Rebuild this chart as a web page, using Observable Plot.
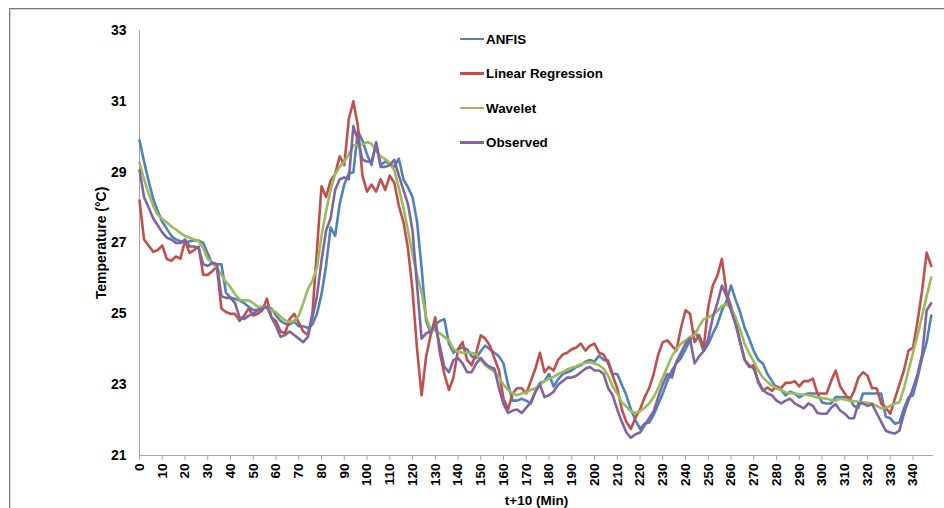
<!DOCTYPE html>
<html>
<head>
<meta charset="utf-8">
<script src="https://cdn.jsdelivr.net/npm/d3@7"></script>
<script src="https://cdn.jsdelivr.net/npm/@observablehq/plot@0.6"></script>
<style>
  html, body { margin: 0; padding: 0; background: #fff; }
  #wrap { position: relative; width: 944px; height: 508px; overflow: hidden; font-family: "Liberation Sans", Arial, sans-serif; }
  #frame { position: absolute; left: 9px; top: 8px; width: 1000px; height: 600px; border-top: 1px solid #7a7a7a; border-left: 1px solid #7a7a7a; box-shadow: inset 1px 1px 0 #d4d4d4; }
  #chart { position: absolute; left: 0; top: 0; }
  #legend { position: absolute; left: 460px; top: 30px; font-weight: bold; font-size: 13.4px; color: #000; }
  .row { display: flex; align-items: center; height: 18px; margin-bottom: 16.5px; }
  .sw { width: 24px; height: 2.6px; margin-right: 2px; }
</style>
</head>
<body>
<div id="wrap">
  <div id="frame"></div>
  <div id="chart"></div>
  <div id="legend"></div>
</div>
<script>
// ---- data (minutes sampled every 2) ----
const minutes = d3.range(0, 350, 2);
const seriesNames = ["ANFIS", "Linear Regression", "Wavelet", "Observed"];
const seriesColors = ["#4F81BD", "#C0504D", "#9BBB59", "#8064A2"];
const yTicks = [21, 23, 25, 27, 29, 31, 33];
const xTicks = d3.range(0, 341, 10);

const anfis = [
  29.9, 29.3, 28.75, 28.25, 27.9, 27.6, 27.4, 27.2, 27.1, 27.05,
  27.0, 27.05, 27.07, 27.07, 27.0, 26.7, 26.4, 26.4, 26.4, 25.6,
  25.46, 25.42, 25.38, 25.3, 25.2, 25.1, 25.12, 25.15, 25.18, 25.15,
  24.95, 24.8, 24.72, 24.7, 24.78, 24.65, 24.65, 24.6, 24.7, 25.0,
  25.55, 26.35, 27.44, 27.2, 28.1, 28.65, 28.96, 29.0, 30.15, 29.9,
  29.5, 29.2, 29.85, 29.2, 29.3, 29.24, 29.15, 29.38, 28.8, 28.57,
  28.3, 27.6, 26.3, 24.8, 24.45, 24.7, 24.8, 24.85, 24.16, 23.9,
  24.0, 24.05, 24.0, 23.8, 23.75, 23.95, 24.1, 24.0, 23.9, 23.8,
  23.6, 23.0, 22.55, 22.55, 22.6, 22.55, 22.47, 22.8, 23.05, 23.1,
  23.3, 22.95, 23.15, 23.3, 23.35, 23.4, 23.5, 23.55, 23.65, 23.7,
  23.65, 23.82, 23.7, 23.68, 23.3, 23.3, 23.0, 22.7, 22.3, 22.0,
  21.75, 21.9, 21.93, 22.15, 22.45, 22.75, 23.1, 23.4, 23.6, 23.75,
  24.0, 24.25, 24.5, 24.3, 23.95, 24.15, 24.44, 24.7, 25.1, 25.35,
  25.8, 25.4, 25.05, 24.6, 24.3, 23.95, 23.7, 23.6, 23.3, 23.1,
  22.9, 22.85, 22.7, 22.8, 22.75, 22.64, 22.72, 22.75, 22.75, 22.75,
  22.5, 22.47, 22.47, 22.65, 22.65, 22.64, 22.64, 22.4, 22.35, 22.75,
  22.75, 22.75, 22.75, 22.75, 22.1, 22.05, 21.9, 21.93, 22.33, 22.64,
  22.7, 23.2, 23.75, 24.2, 24.95
];
const linearRegression = [
  28.2, 27.1, 26.93, 26.75, 26.8, 26.93, 26.55, 26.5, 26.62, 26.56,
  27.07, 26.72, 26.8, 26.9, 26.1, 26.1, 26.2, 26.35, 25.15, 25.05,
  25.0, 25.0, 24.8, 24.95, 25.15, 24.95, 25.0, 25.1, 25.43, 24.9,
  24.8, 24.5, 24.45, 24.85, 25.0, 24.75, 24.5, 24.4, 25.0, 26.8,
  28.6, 28.3, 28.76, 28.95, 29.45, 29.2, 30.5, 31.0, 30.3, 28.9,
  28.45, 28.65, 28.45, 28.8, 28.5, 28.9, 28.7, 28.05, 27.6, 26.85,
  25.66, 24.0, 22.7, 23.8, 24.4, 24.9, 23.9, 23.3, 22.85, 23.2,
  24.0, 24.2, 23.7, 23.55, 23.9, 24.39, 24.3, 24.1, 23.75, 23.4,
  22.6, 22.3, 22.75, 22.9, 22.9, 22.75, 23.1, 23.45, 23.9, 23.35,
  23.5, 23.4, 23.7, 23.85, 23.9, 24.0, 24.05, 24.16, 23.96, 24.1,
  24.16, 23.9, 23.85, 23.6, 23.25, 22.9, 22.3, 21.95, 21.75, 22.07,
  22.3, 22.64, 22.9, 23.3, 23.85, 24.2, 24.25, 24.1, 23.96, 24.6,
  25.1, 25.0, 24.2, 24.4, 24.05, 25.2, 25.8, 26.08, 26.55, 25.6,
  25.2, 24.8, 24.2, 23.7, 23.5, 23.55, 23.05, 22.83, 22.92, 22.83,
  22.95, 22.9, 23.05, 23.05, 23.1, 22.95, 23.1, 23.1, 23.17, 22.75,
  22.75, 22.75, 23.1, 23.4, 22.95, 22.75, 22.55, 22.8, 23.2, 23.35,
  23.25, 22.9, 22.9, 22.47, 22.35, 22.18, 22.6, 23.0, 23.4, 23.96,
  24.05, 24.8, 25.66, 26.73, 26.35
];
const wavelet = [
  29.27, 28.8, 28.4, 28.05, 27.8, 27.68, 27.58, 27.47, 27.38, 27.28,
  27.2, 27.15, 27.1, 27.05, 26.85, 26.55, 26.45, 26.3, 26.1, 25.9,
  25.75, 25.55, 25.4, 25.38, 25.38, 25.3, 25.2, 25.2, 25.17, 25.1,
  25.05, 24.92, 24.82, 24.77, 24.8, 24.95, 25.3, 25.7, 25.93, 26.3,
  27.2, 27.9, 28.5, 28.95, 29.15, 29.3, 29.5, 29.76, 29.76, 29.78,
  29.85, 29.8, 29.6, 29.45, 29.37, 29.25, 29.05, 28.55, 28.0, 27.35,
  26.7, 26.1, 25.6, 24.9, 24.55, 24.53, 24.45, 24.35, 24.25, 24.0,
  23.93, 23.9, 23.9, 23.9, 23.85, 23.7, 23.55, 23.45, 23.37, 23.2,
  23.0, 22.85, 22.75, 22.7, 22.75, 22.78, 22.85, 22.9, 23.0, 23.1,
  23.17, 23.22, 23.3, 23.35, 23.43, 23.48, 23.52, 23.58, 23.62, 23.63,
  23.6, 23.55, 23.45, 23.25, 22.95, 22.75, 22.5, 22.38, 22.25, 22.2,
  22.25, 22.35, 22.47, 22.65, 22.9, 23.2, 23.5, 23.8, 24.0, 24.15,
  24.25, 24.35, 24.4, 24.65, 24.85, 24.9, 24.97, 25.08, 25.22, 25.27,
  25.15, 24.9, 24.55, 24.15, 23.88, 23.65, 23.4, 23.2, 23.08, 22.97,
  22.9, 22.85, 22.78, 22.76, 22.75, 22.73, 22.72, 22.7, 22.67, 22.64,
  22.62, 22.6, 22.57, 22.55, 22.6, 22.58, 22.55, 22.54, 22.52, 22.5,
  22.49, 22.47, 22.4, 22.33, 22.35, 22.4, 22.47, 22.5, 22.9, 23.4,
  23.9, 24.4, 24.95, 25.5, 26.03
];
const observed = [
  29.05, 28.3, 28.0, 27.7, 27.5, 27.3, 27.15, 27.1, 27.0, 27.0,
  27.1, 26.9, 26.9, 26.85, 26.4, 26.35, 26.45, 26.4, 25.5, 25.45,
  25.45, 25.3, 24.9, 24.85, 24.95, 25.0, 25.1, 25.15, 25.2, 24.9,
  24.65, 24.35, 24.4, 24.5, 24.4, 24.3, 24.2, 24.35, 24.9, 25.5,
  26.5, 27.35, 27.7, 28.5, 28.8, 28.85, 28.8, 30.3, 29.9, 29.35,
  29.3, 29.3, 29.8, 29.15, 29.15, 29.2, 29.35, 28.9, 28.5, 28.1,
  27.35, 25.8, 24.3, 24.45, 24.5, 24.7, 24.1, 23.5, 23.35, 23.7,
  23.75, 23.6, 23.35, 23.35, 23.6, 23.75, 23.6, 23.5, 23.45, 22.9,
  22.45, 22.2, 22.27, 22.3, 22.2, 22.35, 22.5, 22.8, 23.0, 22.65,
  22.7, 22.8, 23.0, 23.1, 23.2, 23.2, 23.25, 23.35, 23.45, 23.5,
  23.4, 23.4, 23.3, 22.9, 22.7, 22.3, 21.95, 21.65, 21.5, 21.6,
  21.65, 21.85, 22.05, 22.25, 22.65, 23.0, 23.3, 23.2, 23.65, 23.9,
  24.15, 24.3, 23.6, 23.8, 23.95, 24.3, 24.9, 25.3, 25.8, 25.5,
  25.1, 24.7, 24.2, 23.7, 23.55, 23.45, 23.1, 22.85, 22.75, 22.7,
  22.55, 22.47, 22.55, 22.6, 22.47, 22.4, 22.33, 22.47, 22.4, 22.2,
  22.18, 22.18, 22.35, 22.45, 22.27, 22.18, 22.05, 22.05, 22.47, 22.47,
  22.4, 22.45, 22.2, 21.95, 21.7, 21.65, 21.62, 21.7, 22.18, 22.55,
  22.9, 23.3, 23.85, 25.1, 25.3
];

// ---- table built from the arrays ----
const allSeries = [anfis, linearRegression, wavelet, observed];
const rows = [];
allSeries.forEach((vals, si) => {
  vals.forEach((v, i) => rows.push({ t: minutes[i], v, series: seriesNames[si] }));
});

const chart = Plot.plot({
  width: 944,
  height: 508,
  marginLeft: 139,
  marginRight: 11,
  marginTop: 30,
  marginBottom: 53,
  style: { fontFamily: "'Liberation Sans', Arial, sans-serif", fontWeight: "bold", fontSize: "13px", color: "#000", background: "transparent" },
  x: { domain: [0, 349] },
  y: { domain: [21, 33] },
  color: { domain: seriesNames, range: seriesColors },
  marks: [
    Plot.axisY({ ticks: yTicks, tickSize: 0, tickPadding: 13, fontSize: 14, fill: "#000",
      label: "Temperature (°C)", labelAnchor: "center", labelOffset: 43, labelArrow: false }),
    Plot.axisX({ ticks: xTicks, tickSize: 5, tickPadding: 3, tickRotate: -90, stroke: "#a6a6a6", fill: "#000", fontSize: 13.5,
      label: "t+10 (Min)", labelAnchor: "center", labelOffset: 49, labelArrow: false }),
    Plot.ruleX([0], { stroke: "#a6a6a6" }),
    Plot.ruleY([21], { stroke: "#a6a6a6" }),
    Plot.line(rows, { x: "t", y: "v", z: "series", stroke: "series", strokeWidth: 2.6, strokeLinejoin: "round" })
  ]
});
document.getElementById("chart").appendChild(chart);

// ---- legend ----
const legend = document.getElementById("legend");
seriesNames.forEach((name, i) => {
  const row = document.createElement("div");
  row.className = "row";
  const sw = document.createElement("div");
  sw.className = "sw";
  sw.style.background = seriesColors[i];
  const label = document.createElement("span");
  label.textContent = name;
  row.appendChild(sw);
  row.appendChild(label);
  legend.appendChild(row);
});
</script>
</body>
</html>
